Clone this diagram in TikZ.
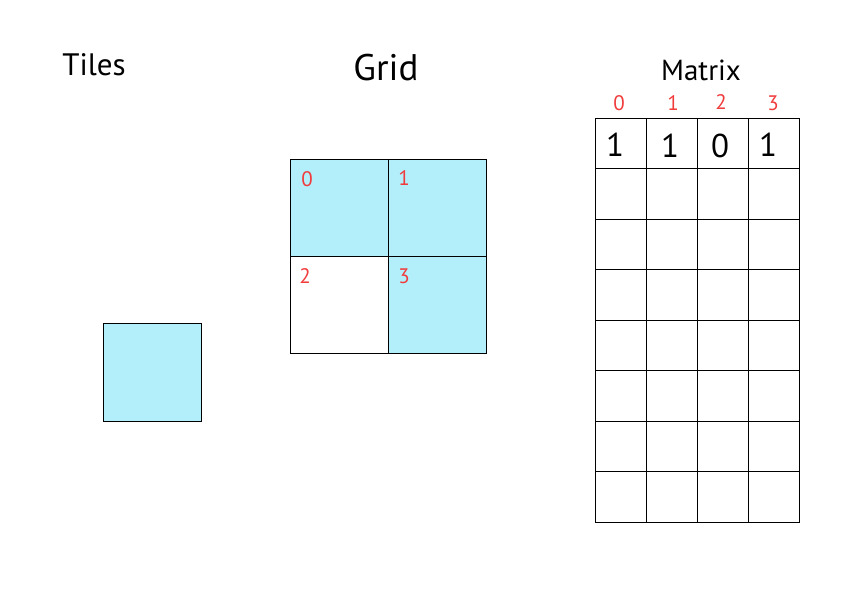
\documentclass[tikz,border=0pt]{standalone}
\usepackage{fontspec}
\setmainfont{PT Sans}
\definecolor{tileblue}{HTML}{B3EEFB}
\definecolor{idxred}{HTML}{F03C3C}
\begin{document}
\begin{tikzpicture}[x=1pt,y=-1pt,
  cell/.style={draw=black,line width=1pt,inner sep=0pt,outer sep=0pt,anchor=north west},
  gcell/.style={cell,minimum width=98pt,minimum height=97pt},
  mcell/.style={cell,minimum width=51pt,minimum height=50.5pt},
  idx/.style={text=idxred,font=\fontsize{21}{24}\selectfont,inner sep=0pt},
  val/.style={font=\fontsize{33}{36}\selectfont,inner sep=0pt},
  title/.style={inner sep=0pt}]
\useasboundingbox (0,0) rectangle (852,613);
% titles
\node[title,font=\fontsize{31}{34}\selectfont] (tTiles) at (94,65) {Tiles};
\node[title,font=\fontsize{37}{40}\selectfont] (tGrid) at (386,68) {Grid};
\node[title,font=\fontsize{29}{32}\selectfont] (tMatrix) at (701,70) {Matrix};
% tile
\node[cell,fill=tileblue,minimum width=98pt,minimum height=98pt] (tile) at (103,323) {};
% grid
\node[gcell,fill=tileblue] (g0) at (290,159) {};
\node[gcell,fill=tileblue] (g1) at (388,159) {};
\node[gcell] (g2) at (290,256.5) {};
\node[gcell,fill=tileblue] (g3) at (388,256.5) {};
\node[idx] (l0) at (307,179) {0};
\node[idx] (l1) at (404,178) {1};
\node[idx] (l2) at (305,276) {2};
\node[idx] (l3) at (404,276) {3};
% matrix
\foreach \r in {0,...,7}{
  \foreach \c in {0,...,3}{
    \node[mcell] (m\r\c) at ({595+51*\c},{118+50.5*\r}) {};
  }
}
\node[val] (v0) at (615,145) {1};
\node[val] (v1) at (670,146) {1};
\node[val] (v2) at (720,146) {0};
\node[val] (v3) at (768,145) {1};
\node[idx] (c0) at (619,103) {0};
\node[idx] (c1) at (673,103) {1};
\node[idx] (c2) at (721,102) {2};
\node[idx] (c3) at (773,103) {3};
\end{tikzpicture}
\end{document}
